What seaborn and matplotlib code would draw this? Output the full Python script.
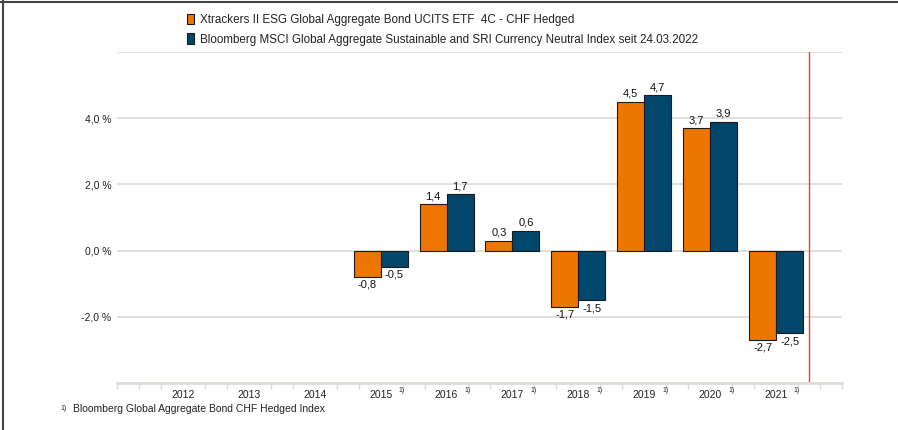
import matplotlib

matplotlib.use("Agg")
import matplotlib.pyplot as plt
import numpy as np
import pandas as pd
import seaborn as sns
from matplotlib.lines import Line2D
from matplotlib.patches import Patch
from matplotlib.transforms import blended_transform_factory

years = ["2012", "2013", "2014", "2015", "2016", "2017", "2018", "2019", "2020", "2021"]
fund = [np.nan, np.nan, np.nan, -0.8, 1.4, 0.3, -1.7, 4.5, 3.7, -2.7]
index = [np.nan, np.nan, np.nan, -0.5, 1.7, 0.6, -1.5, 4.7, 3.9, -2.5]
footnote_flag = [False, False, False, True, True, True, True, True, True, True]

fund_name = "Xtrackers II ESG Global Aggregate Bond UCITS ETF  4C - CHF Hedged"
index_name = "Bloomberg MSCI Global Aggregate Sustainable and SRI Currency Neutral Index seit 24.03.2022"
footnote = "Bloomberg Global Aggregate Bond CHF Hedged Index"

ORANGE = "#EE7500"
BLUE = "#00476B"
GRID = "#DEDCD6"
TEXT = "#222222"

sns.set_style("white")
plt.rcParams["font.family"] = ["Liberation Sans", "DejaVu Sans"]

df = pd.DataFrame({
    "year": years * 2,
    "value": fund + index,
    "series": [fund_name] * len(years) + [index_name] * len(years),
})

fig = plt.figure(figsize=(8.98, 4.30), dpi=100)
ax = fig.add_axes([117 / 898, 47 / 430, 725 / 898, 331 / 430])

sns.barplot(data=df, x="year", y="value", hue="series", order=years,
            hue_order=[fund_name, index_name], palette=[ORANGE, BLUE],
            width=0.82, edgecolor="#1a1a1a", linewidth=0.8, saturation=1,
            legend=False, ax=ax)

for cont in ax.containers:
    ax.bar_label(cont, fmt=lambda v: f"{v:.1f}".replace(".", ","),
                 padding=2, fontsize=8, color="#111111")

ax.set_xlim(-1, 10)
ax.set_ylim(-4, 6)
yt = [-4, -2, 0, 2, 4, 6]
ax.set_yticks(yt)
ax.set_yticklabels([f"{v:.1f} %".replace(".", ",") if -4 < v < 6 else "" for v in yt])
ax.yaxis.grid(True, color=GRID, linewidth=1.3)
ax.set_axisbelow(True)
ax.tick_params(axis="y", length=0, pad=4, labelsize=7.5, labelcolor=TEXT)
ax.tick_params(axis="x", length=0, pad=5, labelsize=7.5, labelcolor=TEXT)
minor = [j / 3 for j in range(-3, 31) if not (j % 3 == 0 and 0 <= j // 3 <= 9)]
ax.set_xticks(minor, minor=True)
ax.tick_params(axis="x", which="minor", bottom=True, length=4, width=1, color=GRID,
               direction="out")
ax.set_xlabel("")
ax.set_ylabel("")
for side in ["top", "right", "left"]:
    ax.spines[side].set_visible(False)
ax.spines["bottom"].set_color(GRID)
ax.spines["bottom"].set_linewidth(2)

ax.axvline(9.5, color="#F03A3A", linewidth=1)

trans = blended_transform_factory(ax.transData, ax.transAxes)
for i, flag in enumerate(footnote_flag):
    if flag:
        ax.text(i + 0.27, -0.022, "1)", transform=trans, fontsize=5, color=TEXT,
                ha="left", va="center")

handles = [Patch(facecolor=ORANGE, edgecolor="#1a1a1a", linewidth=0.8),
           Patch(facecolor=BLUE, edgecolor="#1a1a1a", linewidth=0.8)]
fig.legend(handles, [fund_name, index_name], loc="upper left",
           bbox_to_anchor=(176 / 898, 1 - 3 / 430), frameon=False,
           fontsize=8.4, handlelength=0.65, handleheight=1.0, handletextpad=0.5,
           labelspacing=0.65, labelcolor=TEXT)

fig.text(60 / 898, 1 - 409 / 430, "1)", fontsize=5, color=TEXT, va="center")
fig.text(73 / 898, 1 - 409 / 430, footnote, fontsize=7.5, color=TEXT, va="center")

fig.add_artist(Line2D([0, 1], [1 - 1.5 / 430, 1 - 1.5 / 430], color="#444444", linewidth=1.5))
fig.add_artist(Line2D([2.5 / 898, 2.5 / 898], [0, 1], color="#444444", linewidth=1.5))

fig.savefig("out.png", dpi=100)
